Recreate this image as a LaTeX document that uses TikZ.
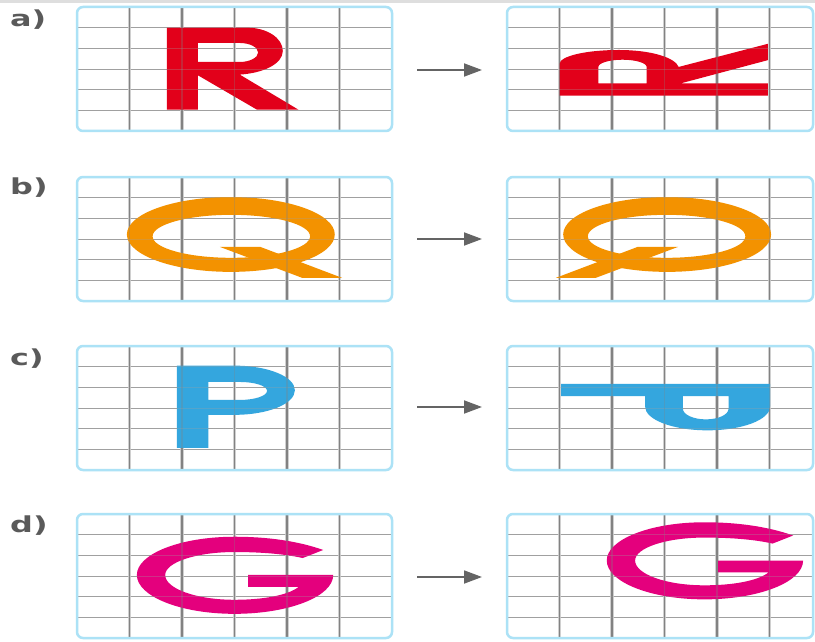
\documentclass[tikz,border=0pt]{standalone}
\usepackage{fontspec}
\newfontfamily\labfont{DejaVu Sans}
\usetikzlibrary{arrows.meta}
\definecolor{Rred}{RGB}{226,0,26}
\definecolor{Qorange}{RGB}{243,146,0}
\definecolor{Pblue}{RGB}{52,166,222}
\definecolor{Gmag}{RGB}{228,0,125}
\definecolor{cborder}{RGB}{172,226,246}
\definecolor{cvcore}{RGB}{130,130,130}
\definecolor{cvhalo}{RGB}{208,208,208}
\definecolor{chline}{RGB}{160,160,160}
\definecolor{carrow}{RGB}{100,100,100}
\definecolor{clab}{RGB}{90,90,90}
\definecolor{ctop}{RGB}{222,222,222}
\tikzset{
  vhalo/.style={draw=cvhalo, line width=3.6pt},
  vcore/.style={draw=cvcore, line width=1.1pt},
  hgrid/.style={draw=chline, line width=0.9pt},
  gridborder/.style={draw=cborder, line width=2.5pt, rounded corners=6pt},
  lab/.style={text=clab, font=\labfont\bfseries\fontsize{22}{22}\selectfont, anchor=base west, inner sep=0pt},
  movearrow/.style={draw=carrow, line width=1.8pt, -{Triangle[length=18pt,width=13pt]}},
  gridframe/.style={xscale=52.5, yscale=-20.67},
}
% #1 x0, #2 y0, #3 width of the box
\newcommand\gridbase[3]{%
  \foreach \k in {1,...,5} {\draw[hgrid] ({#1},{-(#2+\k*20.67)}) -- ++(#3,0);}
  \foreach \k in {1,...,5} {\draw[vhalo] ({#1+\k*52.5},{-#2}) -- ++(0,-124);
                            \draw[vcore] ({#1+\k*52.5},{-#2}) -- ++(0,-124);}
}
\newcommand\gridover[3]{%
  \begin{scope}[opacity=0.3]
  \foreach \k in {1,...,5} {\draw[hgrid] ({#1},{-(#2+\k*20.67)}) -- ++(#3,0);
                            \draw[vcore] ({#1+\k*52.5},{-#2}) -- ++(0,-124);}
  \end{scope}
  \draw[gridborder] ({#1},{-#2}) rectangle ++(#3,-124);
}
\newcommand\letterR{%
  \fill[Rred, even odd rule] (1.71,1.0) -- (3.24,1.0) .. controls (3.62,1.0) and (3.92,1.5) .. (3.92,2.13)
    .. controls (3.92,2.75) and (3.55,3.2) .. (3.1,3.27) -- (4.22,4.97) -- (3.43,4.97) -- (2.30,3.30)
    -- (2.30,4.97) -- (1.71,4.97) -- cycle
    (2.30,1.74) -- (3.1,1.74) .. controls (3.29,1.74) and (3.45,1.95) .. (3.45,2.2)
    .. controls (3.45,2.45) and (3.29,2.66) .. (3.1,2.66) -- (2.30,2.66) -- cycle;}
\newcommand\letterQ{%
  \fill[Qorange, even odd rule] (2.93,2.78) ellipse [x radius=1.98, y radius=1.81]
    (2.94,2.87) ellipse [x radius=1.5, y radius=1.04];
  \fill[Qorange] (2.72,3.38) -- (3.49,3.38) -- (5.05,4.88) -- (4.29,4.88) -- cycle;}
\newcommand\letterP{%
  \fill[Pblue, even odd rule] (1.90,0.95) -- (3.0,0.95) .. controls (3.64,0.95) and (4.15,1.48) .. (4.15,2.14)
    .. controls (4.15,2.8) and (3.64,3.33) .. (3.0,3.33) -- (2.50,3.33) -- (2.50,4.93) -- (1.90,4.93) -- cycle
    (2.50,1.74) -- (3.1,1.74) .. controls (3.39,1.74) and (3.62,1.93) .. (3.62,2.17)
    .. controls (3.62,2.41) and (3.39,2.61) .. (3.1,2.61) -- (2.50,2.61) -- cycle;}
\newcommand\letterG{%
  \fill[Gmag] (4.69,1.74) .. controls (4.2,1.3) and (3.62,1.1) .. (3.0,1.1)
    .. controls (1.97,1.1) and (1.14,1.93) .. (1.14,2.95)
    .. controls (1.14,3.98) and (1.97,4.83) .. (3.0,4.83)
    .. controls (4.03,4.83) and (4.88,4.0) .. (4.88,2.95)
    -- (3.26,2.95) -- (3.26,3.53) -- (4.22,3.53)
    .. controls (4.02,3.93) and (3.55,4.15) .. (3.0,4.15)
    .. controls (2.27,4.15) and (1.68,3.61) .. (1.68,2.95)
    .. controls (1.68,2.34) and (2.27,1.84) .. (3.0,1.84)
    .. controls (3.55,1.84) and (3.98,1.95) .. (4.30,2.13) -- cycle;}
\begin{document}
\begin{tikzpicture}[x=1pt,y=1pt]
\useasboundingbox (0,0) rectangle (815,-642);
\clip (0,0) rectangle (815,-642);
\fill[white] (0,0) rectangle (815,-642);
\fill[ctop] (0,0) rectangle (815,-2.6);
% ---- row a
\gridbase{77}{7}{315}
\begin{scope}[shift={(77,-7)},gridframe] \letterR \end{scope}
\gridover{77}{7}{315}
\gridbase{507}{7}{306}
\begin{scope}[shift={(507,-7)},gridframe]
  \begin{scope}[rotate around={-90:(3,3)}] \letterR \end{scope}
\end{scope}
\gridover{507}{7}{306}
% ---- row b
\gridbase{77}{177}{315}
\begin{scope}[shift={(77,-177)},gridframe] \letterQ \end{scope}
\gridover{77}{177}{315}
\gridbase{507}{177}{306}
\begin{scope}[shift={(507,-177)},gridframe]
  \begin{scope}[shift={(5.98,0)},xscale=-1] \letterQ \end{scope}
\end{scope}
\gridover{507}{177}{306}
% ---- row c
\gridbase{77}{346}{315}
\begin{scope}[shift={(77,-346)},gridframe] \letterP \end{scope}
\gridover{77}{346}{315}
\gridbase{507}{346}{306}
\begin{scope}[shift={(507,-346)},gridframe]
  \begin{scope}[shift={(-0.04,-0.07)},rotate around={90:(3,3)}] \letterP \end{scope}
\end{scope}
\gridover{507}{346}{306}
% ---- row d
\gridbase{77}{514}{315}
\begin{scope}[shift={(77,-514)},gridframe] \letterG \end{scope}
\gridover{77}{514}{315}
\gridbase{507}{514}{306}
\begin{scope}[shift={(507,-514)},gridframe]
  \begin{scope}[shift={(0.76,-0.7)}] \letterG \end{scope}
\end{scope}
\gridover{507}{514}{306}
% ---- labels
\node[lab] (la) at (10,-27) {\scalebox{1.45}[1]{a)}};
\node[lab] (lb) at (10,-194) {\scalebox{1.45}[1]{b)}};
\node[lab] (lc) at (10,-365) {\scalebox{1.45}[1]{c)}};
\node[lab] (ld) at (10,-532) {\scalebox{1.45}[1]{d)}};
% ---- arrows
\coordinate (as) at (417,-70);  \coordinate (ae) at (482,-70);
\coordinate (bs) at (417,-239); \coordinate (be) at (482,-239);
\coordinate (cs) at (417,-407); \coordinate (ce) at (482,-407);
\coordinate (ds) at (417,-577); \coordinate (de) at (482,-577);
\draw[movearrow] (as) -- (ae);
\draw[movearrow] (bs) -- (be);
\draw[movearrow] (cs) -- (ce);
\draw[movearrow] (ds) -- (de);
\end{tikzpicture}
\end{document}
